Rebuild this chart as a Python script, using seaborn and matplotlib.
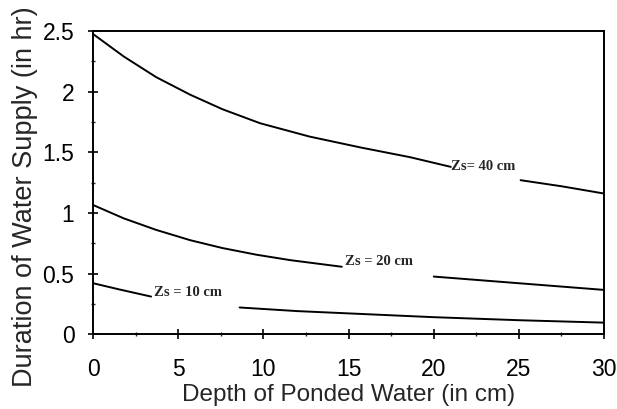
import numpy as np
import pandas as pd
import matplotlib
matplotlib.use("Agg")
import matplotlib.pyplot as plt
import seaborn as sns
from matplotlib.ticker import MultipleLocator

# Curve data (segments separated where labels interrupt the lines)
zs40_x1 = [0, 1.8, 3.7, 5.7, 7.6, 9.8, 12.7, 15.7, 18.6, 21.0]
zs40_y1 = [2.475, 2.29, 2.12, 1.975, 1.855, 1.74, 1.63, 1.54, 1.46, 1.38]
zs40_x2 = [25.1, 27.5, 30]
zs40_y2 = [1.27, 1.22, 1.16]

zs20_x1 = [0, 1.8, 3.7, 5.7, 7.6, 9.6, 11.6, 14.6]
zs20_y1 = [1.065, 0.955, 0.86, 0.775, 0.71, 0.655, 0.61, 0.556]
zs20_x2 = [20, 25, 30]
zs20_y2 = [0.475, 0.42, 0.365]

zs10_x1 = [0, 1.5, 3.4]
zs10_y1 = [0.42, 0.37, 0.31]
zs10_x2 = [8.6, 12, 16, 20, 25, 30]
zs10_y2 = [0.22, 0.19, 0.165, 0.14, 0.115, 0.095]

labels = ["Zs= 40 cm", "Zs = 20 cm", "Zs = 10 cm"]
label_pos = [(21.0, 1.385), (14.8, 0.60), (3.55, 0.34)]

xticks = [0, 5, 10, 15, 20, 25, 30]
yticks = [0, 0.5, 1, 1.5, 2, 2.5]
yticklabels = ["0", "0.5", "1", "1.5", "2", "2.5"]

xlabel = "Depth of Ponded Water (in cm)"
ylabel = "Duration of Water Supply (in hr)"

segments = [
    ("40a", zs40_x1, zs40_y1), ("40b", zs40_x2, zs40_y2),
    ("20a", zs20_x1, zs20_y1), ("20b", zs20_x2, zs20_y2),
    ("10a", zs10_x1, zs10_y1), ("10b", zs10_x2, zs10_y2),
]
rows = []
for seg, xs, ys in segments:
    for x, y in zip(xs, ys):
        rows.append({"seg": seg, "x": x, "y": y})
df = pd.DataFrame(rows)

sns.set_style("ticks")
plt.rcParams["font.family"] = ["Liberation Sans", "DejaVu Sans"]

fig = plt.figure(figsize=(6.17, 4.09), dpi=100)
ax = fig.add_axes([0.151, 0.183, 0.828, 0.741])

sns.lineplot(data=df, x="x", y="y", units="seg", estimator=None,
             color="black", linewidth=1.4, sort=False, ax=ax)

for txt, (lx, ly) in zip(labels, label_pos):
    ax.text(lx, ly, txt, fontsize=10.5, family="Liberation Serif",
            fontweight="bold", ha="left", va="center")

ax.set_xlim(0, 30)
ax.set_ylim(0, 2.5)
ax.set_xticks(xticks)
ax.set_yticks(yticks)
ax.set_yticklabels(yticklabels)
ax.xaxis.set_minor_locator(MultipleLocator(2.5))
ax.yaxis.set_minor_locator(MultipleLocator(0.25))
ax.tick_params(which="major", direction="inout", length=7, width=1.2,
               labelsize=16.5, colors="black")
ax.tick_params(axis="x", which="major", pad=14)
ax.tick_params(axis="y", which="major", pad=10)
ax.tick_params(which="minor", direction="inout", length=3, width=1.0)

for s in ax.spines.values():
    s.set_visible(True)
    s.set_color("black")
    s.set_linewidth(1.4)

ax.set_xlabel(xlabel, fontsize=17.5, labelpad=2)
ax.set_ylabel(ylabel, fontsize=19.5)
ax.yaxis.set_label_coords(-0.108, 0.455)

fig.savefig("out.png", dpi=100)
